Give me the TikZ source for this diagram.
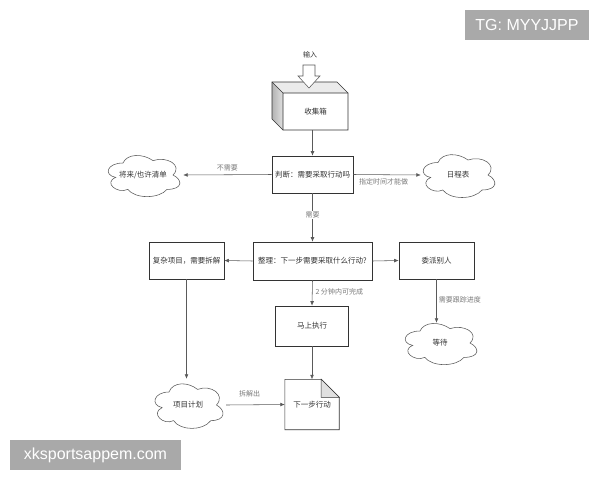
\documentclass[tikz,border=0pt]{standalone}
\usepackage{fontspec}
\setmainfont{Liberation Sans}
\newfontfamily\cjk{Noto Sans CJK SC}
\usetikzlibrary{arrows.meta,shapes.geometric,shapes.arrows,calc}
\definecolor{edgec}{HTML}{5A5A5A}
\definecolor{boxc}{HTML}{333333}
\definecolor{labc}{HTML}{7A7A7A}
\definecolor{wmgray}{HTML}{A9A9A9}
\tikzset{
  box/.style={rectangle, draw=boxc, line width=0.6pt, fill=white, text=boxc,
    font=\cjk\fontsize{7.5}{9}\selectfont, inner sep=1pt},
  cloudnode/.style={ellipse, inner sep=0pt, text=boxc,
    font=\cjk\fontsize{7.5}{9}\selectfont},
  cloudline/.style={draw=edgec, line width=0.55pt},
  arr/.style={draw=edgec, line width=0.55pt, -{Latex[length=4.5pt,width=3.8pt]}},
  lab/.style={text=labc, font=\cjk\fontsize{7}{8}\selectfont, inner sep=1pt},
  wm/.style={fill=wmgray, text=white, font=\fontsize{16}{18}\selectfont, inner sep=0pt}
}
\newcommand\mycloud[3]{%
  \begin{scope}[shift={#1}, x=#2pt, y=-#3pt]
    \path[cloudline] (-0.25,-0.25)
      .. controls (-0.45,-0.25) and (-0.5,0) .. (-0.34,0.05)
      .. controls (-0.5,0.16) and (-0.32,0.4) .. (-0.19,0.3)
      .. controls (-0.1,0.5) and (0.2,0.5) .. (0.3,0.3)
      .. controls (0.5,0.3) and (0.5,0.1) .. (0.375,0)
      .. controls (0.5,-0.2) and (0.3,-0.4) .. (0.125,-0.3)
      .. controls (0,-0.45) and (-0.2,-0.45) .. (-0.25,-0.25) -- cycle;
  \end{scope}}
\begin{document}
\begin{tikzpicture}[x=1pt, y=-1pt]
\useasboundingbox[fill=white] (0,0) rectangle (600,480);

% watermarks
\node[wm, minimum width=124pt, minimum height=30pt] (wmtg) at (527,25) {TG: MYYJJPP};
\node[wm, minimum width=171pt, minimum height=30pt] (wmurl) at (95.5,455) {xksportsappem.com};

% inbox cube
\fill[fill=black!8] (272,82) -- (337,82) -- (348,93) -- (283,93) -- cycle;
\shade[left color=black!30, right color=black!12] (272,82) -- (283,93) -- (283,130) -- (272,119) -- cycle;
\draw[draw=boxc, line width=0.6pt] (272,82) -- (337,82) -- (348,93) -- (348,130) -- (283,130) -- (272,119) -- cycle;
\draw[draw=boxc, line width=0.6pt] (272,82) -- (283,93) -- (348,93) (283,93) -- (283,130);
\node[cloudnode, rectangle, minimum width=65pt, minimum height=37pt] (inbox) at (315.5,111.5) {收集箱};

% input block arrow
\node[lab, text=boxc] (inlab) at (310,55) {输入};
\draw[draw=edgec, line width=0.55pt, fill=white] (303,65) -- (315,65) -- (315,76) -- (320,76) -- (309,88) -- (298,76) -- (303,76) -- cycle;

% main boxes
\node[box, minimum width=81pt, minimum height=37pt] (judge) at (312.5,174.5) {判断：需要采取行动吗};
\node[box, minimum width=119pt, minimum height=38pt] (organize) at (312.5,261) {整理：下一步需要采取什么行动?};
\node[box, minimum width=75pt, minimum height=37pt] (complex) at (186.5,260.5) {复杂项目，需要拆解};
\node[box, minimum width=75pt, minimum height=37pt] (delegate) at (436.5,260.5) {委派别人};
\node[box, minimum width=73pt, minimum height=40pt] (doit) at (312,326) {马上执行};

% next action (note shape)
\node[cloudnode, rectangle, minimum width=54pt, minimum height=50pt] (next) at (312,404.5) {下一步行动};
\draw[draw=boxc, line width=0.6pt] (next.north west) -- ($(next.north east)+(-18,0)$) -- ($(next.north east)+(0,18)$) -- (next.south east) -- (next.south west) -- cycle;
\filldraw[fill=black!12, draw=boxc, line width=0.55pt] ($(next.north east)+(-18,0)$) -- ($(next.north east)+(-18,18)$) -- ($(next.north east)+(0,18)$) -- cycle;

% clouds
\node[cloudnode, minimum width=80pt, minimum height=48pt] (later) at (143,175) {将来/也许清单};
\mycloud{(143,175)}{80}{48}
\node[cloudnode, minimum width=80pt, minimum height=50pt] (calendar) at (458,175) {日程表};
\mycloud{(458,175)}{80}{50}
\node[cloudnode, minimum width=80pt, minimum height=48pt] (wait) at (440,343) {等待};
\mycloud{(440,343)}{80}{48}
\node[cloudnode, minimum width=76pt, minimum height=52pt] (plan) at (188,405) {项目计划};
\mycloud{(188,405)}{76}{52}

% connectors
\draw[arr] (inbox.south -| judge.north) -- (judge.north);
\draw[arr] (judge.west) -- (later.east) node[lab, pos=0.5, above=2.5pt] (l1) {不需要};
\draw[arr] (judge.east) -- ($(calendar.west)+(3,0)$) node[lab, pos=0.45, below=2.5pt] (l2) {指定时间才能做};
\draw[arr] (judge.south) -- (organize.north) node[lab, pos=0.45, fill=white] (l3) {需要};
\draw[arr] (organize.west) -- (complex.east);
\draw[arr] (organize.east) -- (delegate.west);
\draw[arr] (organize.south) -- (doit.north) node[lab, pos=0.45, right=2pt] (l4) {2 分钟内可完成};
\draw[arr] (delegate.south) -- ($(delegate.south |- wait.north)+(0,4)$) node[lab, pos=0.47, right=1pt] (l5) {需要跟踪进度};
\draw[arr] (complex.south) -- (complex.south |- plan.north);
\draw[arr] (doit.south) -- (next.north);
\draw[arr] (plan.east) -- (next.west) node[lab, pos=0.4, above=6pt] (l6) {拆解出};
\end{tikzpicture}
\end{document}
